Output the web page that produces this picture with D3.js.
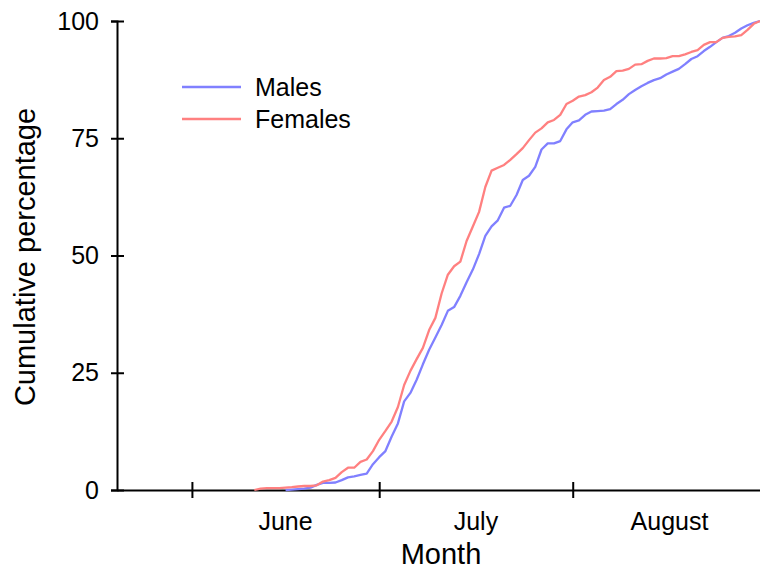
<!DOCTYPE html>
<html><head><meta charset="utf-8">
<script src="https://cdn.jsdelivr.net/npm/d3@7"></script>
<style>body{margin:0;background:#fff}svg{display:block}text{font-family:"Liberation Sans",Arial,sans-serif;fill:#000}</style>
</head><body><svg id="c" width="760" height="572"></svg>
<script>
// Data
const seriesNames = ["Males", "Females"];
const seriesColors = ["#8080ff", "#ff8080"];
const monthLabels = ["June", "July", "August"];
const monthStarts = ["2000-06-01", "2000-07-01", "2000-08-01", "2000-09-01"];
const yTicks = [0, 25, 50, 75, 100];
const domainDates = ["2000-05-20", "2000-08-31"];
const maleStart = "2000-06-16";
const maleValues = [0,0.1,0.2,0.3,0.5,1.1,1.5,1.5,1.6,2.1,
  2.7,2.9,3.2,3.5,5.5,7.0,8.3,11.4,14.2,18.9,
  20.7,23.5,26.8,29.9,32.5,35.2,38.2,39.0,41.4,44.3,
  47.0,50.3,54.2,56.2,57.5,60.2,60.6,62.9,66.1,67.0,
  68.9,72.6,73.9,73.9,74.4,76.9,78.4,78.8,80.0,80.7,
  80.8,80.9,81.2,82.3,83.2,84.4,85.3,86.1,86.8,87.4,
  87.8,88.6,89.2,89.8,90.8,91.9,92.5,93.6,94.5,95.5,
  96.4,96.8,97.5,98.4,99.1,99.6,100];
const femaleStart = "2000-06-11";
const femaleValues = [0,0.3,0.4,0.4,0.4,0.5,0.6,0.75,0.85,0.85,
  1.0,1.8,2.1,2.6,3.8,4.75,4.75,6.0,6.5,8.3,
  10.7,12.6,14.6,17.7,22.4,25.4,27.9,30.3,34.1,36.7,
  41.9,45.9,47.7,48.7,53.1,56.2,59.3,64.6,68.1,68.7,
  69.3,70.4,71.6,72.9,74.6,76.2,77.1,78.4,78.9,80.0,
  82.3,83.0,83.9,84.2,84.8,85.8,87.4,88.1,89.3,89.4,
  89.8,90.7,90.8,91.5,92.0,92.0,92.1,92.5,92.5,92.9,
  93.4,93.8,94.9,95.5,95.5,96.4,96.6,96.7,97.0,98.1,
  99.4,100];

const parse = s => new Date(s + "T00:00:00Z");
const DAY = 86400000;
const toPoints = (start, vals) => vals.map((v, i) => ({date: new Date(parse(start).getTime() + i * DAY), v}));
const series = [toPoints(maleStart, maleValues), toPoints(femaleStart, femaleValues)];

const svg = d3.select("#c");
const x = d3.scaleUtc().domain(domainDates.map(parse)).range([117, 760]);
const y = d3.scaleLinear().domain([0, 100]).range([490, 21]);

// y axis
const gy = svg.append("g").attr("transform", "translate(117,0)")
  .call(d3.axisLeft(y).tickValues(yTicks).tickSizeOuter(0).tickSize(6).tickPadding(12));
gy.select(".domain").attr("stroke-width", 2);
gy.selectAll(".tick line").attr("x1", 7).attr("x2", -6).attr("stroke-width", 2);
gy.selectAll(".tick text").attr("font-size", 25).attr("font-family", "Liberation Sans, Arial, sans-serif");

// x axis
const ticksX = monthStarts.slice(0, 3).map(parse);
const gx = svg.append("g").attr("transform", "translate(0,490)")
  .call(d3.axisBottom(x).tickValues(ticksX).tickFormat("").tickSizeOuter(0));
gx.select(".domain").attr("stroke-width", 2);
gx.selectAll(".tick line").attr("y1", -8).attr("y2", 8).attr("stroke-width", 2);

// month labels at midpoints
monthLabels.forEach((m, i) => {
  const a = x(parse(monthStarts[i]));
  const b = Math.min(x(parse(monthStarts[i + 1])), 773);
  svg.append("text").attr("x", (a + b) / 2).attr("y", 530)
    .attr("text-anchor", "middle").attr("font-size", 25).text(m);
});

// axis titles
svg.append("text").attr("x", 441).attr("y", 564).attr("text-anchor", "middle")
  .attr("font-size", 29).text("Month");
svg.append("text").attr("transform", "translate(35,257) rotate(-90)")
  .attr("text-anchor", "middle").attr("font-size", 29).text("Cumulative percentage");

// lines
const line = d3.line().x(d => x(d.date)).y(d => y(d.v));
series.forEach((s, i) => {
  svg.append("path").datum(s).attr("d", line).attr("fill", "none")
    .attr("stroke", seriesColors[i]).attr("stroke-width", 2.3).attr("stroke-linejoin", "round");
});

// legend
seriesNames.forEach((n, i) => {
  const ly = 87 + i * 32;
  svg.append("line").attr("x1", 182).attr("x2", 241).attr("y1", ly).attr("y2", ly)
    .attr("stroke", seriesColors[i]).attr("stroke-width", 2.3);
  svg.append("text").attr("x", 255).attr("y", ly + 9).attr("font-size", 25).text(n);
});
</script></body></html>
